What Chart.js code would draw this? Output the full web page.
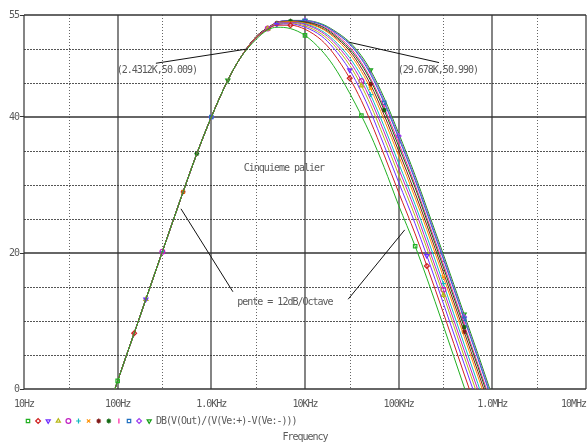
<!DOCTYPE html>
<html><head><meta charset="utf-8">
<script src="https://cdn.jsdelivr.net/npm/chart.js@4.4.1/dist/chart.umd.min.js"></script>
<style>html,body{margin:0;padding:0;background:#fff;}canvas{display:block;}</style>
</head><body>
<canvas id="c" width="587" height="443"></canvas>
<script>
// ---------------- DATA ----------------
const frequencies = [90,100,150,200,300,500,700,1000,1500,2000,3000,4000,5000,7000,10000,15000,20000,30000,40000,50000,70000,100000,150000,200000,300000,500000,700000,1000000];
// shared low-frequency side (90 Hz .. 2 kHz)
const risingPart = [-0.7,1.2,8.2,13.2,20.2,29.0,34.6,40.0,45.4,48.5];
// per-curve values from 3 kHz to 1 MHz
const curve1  = [51.4,52.8,53.2,53.0,52.0,49.8,47.6,43.5,40.2,37.4,32.6,27.0,21.0,16.3,9.3,0.3,-5.5,-11.7];
const curve2  = [51.6,52.9,53.5,53.5,52.9,51.3,49.4,45.7,42.4,39.4,34.4,28.9,22.8,18.1,11.2,2.2,-3.6,-9.8];
const curve3  = [51.6,53.0,53.6,53.7,53.2,51.9,50.2,46.9,43.7,40.8,35.8,30.4,24.3,19.6,12.6,3.7,-2.1,-8.3];
const curve4  = [51.7,53.0,53.7,53.8,53.4,52.2,50.7,47.6,44.6,41.8,36.9,31.5,25.4,20.7,13.8,4.8,-1.0,-7.2];
const curve5  = [51.7,53.0,53.7,53.9,53.6,52.5,51.1,48.2,45.3,42.6,37.8,32.4,26.3,21.5,14.6,5.7,-0.1,-6.3];
const curve6  = [51.7,53.0,53.7,53.9,53.7,52.7,51.4,48.7,46.0,43.3,38.6,33.2,27.1,22.4,15.5,6.6,0.8,-5.5];
const curve7  = [51.7,53.0,53.8,54.0,53.8,53.0,51.8,49.3,46.7,44.2,39.6,34.3,28.1,23.4,16.5,7.7,1.9,-4.4];
const curve8  = [51.8,53.1,53.8,54.0,53.9,53.1,52.0,49.7,47.2,44.8,40.3,35.0,28.8,24.1,17.2,8.4,2.6,-3.7];
const curve9  = [51.8,53.1,53.8,54.1,54.0,53.3,52.2,50.0,47.7,45.4,41.0,35.7,29.6,24.8,17.9,9.1,3.3,-3.0];
const curve10 = [51.8,53.1,53.9,54.1,54.0,53.4,52.4,50.3,48.0,45.7,41.4,36.2,30.0,25.2,18.4,9.5,3.7,-2.5];
const curve11 = [51.8,53.1,53.9,54.2,54.1,53.6,52.6,50.7,48.5,46.3,42.1,36.9,30.7,25.9,19.1,10.3,4.5,-1.8];
const curve12 = [51.8,53.1,53.9,54.2,54.2,53.6,52.7,50.8,48.7,46.6,42.4,37.2,31.0,26.2,19.4,10.6,4.8,-1.5];
const curve13 = [51.8,53.1,53.9,54.2,54.2,53.7,52.8,51.0,49.0,46.9,42.8,37.6,31.4,26.6,19.8,11.0,5.2,-1.1];
const fallingParts = [curve1,curve2,curve3,curve4,curve5,curve6,curve7,curve8,curve9,curve10,curve11,curve12,curve13];
// sample indices where each trace shows its marker
const markerIndices = [[1,14,18,22],[2,13,17,23],[3,12,17,23],[3,11,18,24],[4,11,18,24],[4,12,19,24],[5,11,19,24],[5,12,19,25],[6,13,20,25],[6,13,20,25],[7,14,20,25],[7,14,21,25],[8,14,19,25]];

const xTickValues = [10,100,1000,10000,100000,1000000,10000000];
const xTickLabels = ['10Hz','100Hz','1.0KHz','10KHz','100KHz','1.0MHz','10MHz     '];
const yTickValues = [0,20,40,55];
const yGridSolid = [0,20,40,55];
const yGridDotted = [5,10,15,25,30,35,45,50];
const xGridSolid = [10,100,1000,10000,100000,1000000,10000000];
const xGridDotted = [30,300,3000,30000,300000,3000000];
const legendText = 'DB(V(Out)/(V(Ve:+)-V(Ve:-)))';
const xTitle = 'Frequency';
// annotations: [text, freq, dB]
const annotationTexts = ['(2.4312K,50.009)','(29.678K,50.990)','Cinquieme palier','pente = 12dB/Octave'];
const annotationX = [262,262000,5960,6100];
const annotationY = [46.8,46.8,32.5,12.8];
// pointer lines: from (f1,db1) to (f2,db2)
const pointerF1 = [256,270000,474,28900];
const pointerD1 = [47.9,48.0,26.5,13.2];
const pointerF2 = [2431.2,29678,1700,116000];
const pointerD2 = [50.009,50.990,14.3,23.4];

// ---------------- STYLES ----------------
const traceColors = ['#22b022','#d02020','#7030ff','#b8b818','#c020c0','#10b8c0','#ff9000','#801818','#106810','#ff20a0','#2070c0','#a040f0','#18a018'];
const traceStyles = ['rect','rectRot','triangle','triangle','circle','cross','crossRot','star','star','line','rect','rectRot','triangle'];
const traceRot = [0,0,180,0,0,0,0,180,0,90,0,0,180];
const FONT = "'DejaVu Sans Mono'";
const TEXT_COLOR = '#5a5a5a';

const datasets = fallingParts.map((part, i) => ({
  label: 'trace' + (i + 1),
  data: frequencies.map((f, k) => ({x: f, y: k < risingPart.length ? risingPart[k] : part[k - risingPart.length]})),
  borderColor: traceColors[i],
  backgroundColor: 'rgba(0,0,0,0)',
  borderWidth: 1,
  cubicInterpolationMode: 'monotone',
  pointStyle: traceStyles[i],
  rotation: traceRot[i],
  pointBorderColor: traceColors[i],
  pointBackgroundColor: 'rgba(0,0,0,0)',
  pointBorderWidth: 1.2,
  pointRadius: (ctx) => markerIndices[i].includes(ctx.dataIndex) ? 2.4 : 0
}));

function drawMarker(ctx, style, rot, x, y, r, color) {
  ctx.save();
  ctx.strokeStyle = color; ctx.fillStyle = 'rgba(0,0,0,0)'; ctx.lineWidth = 1.2;
  if (Chart.helpers && Chart.helpers.drawPoint) {
    Chart.helpers.drawPoint(ctx, {pointStyle: style, rotation: rot, radius: r, borderWidth: 1.2}, x, y);
  } else {
    ctx.beginPath(); ctx.arc(x, y, r, 0, Math.PI * 2); ctx.stroke();
  }
  ctx.restore();
}

const decorPlugin = {
  id: 'decor',
  beforeDraw(chart) { chart.ctx.letterSpacing = '-1px'; },
  beforeDatasetsDraw(chart) {
    const {ctx, chartArea: a, scales: {x, y}} = chart;
    ctx.save();
    ctx.strokeStyle = '#555'; ctx.lineWidth = 1; ctx.setLineDash([2, 1]);
    yGridDotted.forEach(v => { const p = Math.round(y.getPixelForValue(v)) + 0.5; ctx.beginPath(); ctx.moveTo(a.left, p); ctx.lineTo(a.right, p); ctx.stroke(); });
    ctx.strokeStyle = '#666'; ctx.setLineDash([1, 2]);
    xGridDotted.forEach(v => { const p = Math.round(x.getPixelForValue(v)) + 0.5; ctx.beginPath(); ctx.moveTo(p, a.top); ctx.lineTo(p, a.bottom); ctx.stroke(); });
    ctx.setLineDash([]);
    ctx.strokeStyle = '#333'; ctx.lineWidth = 1.4;
    yGridSolid.forEach(v => { const p = Math.round(y.getPixelForValue(v)); ctx.beginPath(); ctx.moveTo(a.left, p); ctx.lineTo(a.right, p); ctx.stroke(); });
    ctx.lineWidth = 1.2;
    xGridSolid.forEach(v => { const p = Math.round(x.getPixelForValue(v)); ctx.beginPath(); ctx.moveTo(p, a.top); ctx.lineTo(p, a.bottom); ctx.stroke(); });
    ctx.restore();
  },
  afterDatasetsDraw(chart) {
    const {ctx, scales: {x, y}} = chart;
    ctx.save();
    ctx.letterSpacing = '-1px';
    ctx.strokeStyle = '#111'; ctx.lineWidth = 1;
    for (let i = 0; i < pointerF1.length; i++) {
      ctx.beginPath();
      ctx.moveTo(x.getPixelForValue(pointerF1[i]), y.getPixelForValue(pointerD1[i]));
      ctx.lineTo(x.getPixelForValue(pointerF2[i]), y.getPixelForValue(pointerD2[i]));
      ctx.stroke();
    }
    ctx.font = '10px ' + FONT; ctx.fillStyle = TEXT_COLOR;
    ctx.textAlign = 'center'; ctx.textBaseline = 'middle';
    for (let i = 0; i < annotationTexts.length; i++) {
      ctx.fillText(annotationTexts[i], x.getPixelForValue(annotationX[i]), y.getPixelForValue(annotationY[i]));
    }
    const ly = 421;
    for (let i = 0; i < traceColors.length; i++) {
      drawMarker(ctx, traceStyles[i], traceRot[i], 28 + i * 10.1, ly, 2.4, traceColors[i]);
    }
    ctx.textAlign = 'left';
    ctx.fillText(legendText, 156, ly);
    ctx.restore();
  }
};

new Chart(document.getElementById('c'), {
  type: 'line',
  data: {datasets},
  options: {
    responsive: false, animation: false, devicePixelRatio: 1,
    events: [],
    layout: {padding: {top: 15, right: 1, left: 0, bottom: 0}},
    plugins: {legend: {display: false}, tooltip: {enabled: false}},
    scales: {
      x: {
        type: 'logarithmic', min: 10, max: 10000000,
        afterBuildTicks: (s) => { s.ticks = xTickValues.map(v => ({value: v})); },
        afterFit: (s) => { s.height = 54; s.paddingLeft = 0; s.paddingRight = 0; },
        ticks: {autoSkip: false, maxRotation: 0, padding: 9, color: TEXT_COLOR, font: {family: FONT, size: 10},
                callback: (v, i) => xTickLabels[i]},
        grid: {drawOnChartArea: false, drawTicks: false},
        border: {display: false},
        title: {display: true, text: xTitle, color: TEXT_COLOR, font: {family: FONT, size: 10}, padding: {top: 0, bottom: 0}}
      },
      y: {
        type: 'linear', min: 0, max: 55,
        afterBuildTicks: (s) => { s.ticks = yTickValues.map(v => ({value: v})); },
        afterFit: (s) => { s.width = 24; s.paddingTop = 0; s.paddingBottom = 0; },
        ticks: {padding: 1, color: TEXT_COLOR, font: {family: FONT, size: 10}, callback: (v) => String(v)},
        grid: {drawOnChartArea: false, drawTicks: true, tickLength: 4, tickColor: '#333'},
        border: {display: false}
      }
    }
  },
  plugins: [decorPlugin]
});
</script>
</body></html>
